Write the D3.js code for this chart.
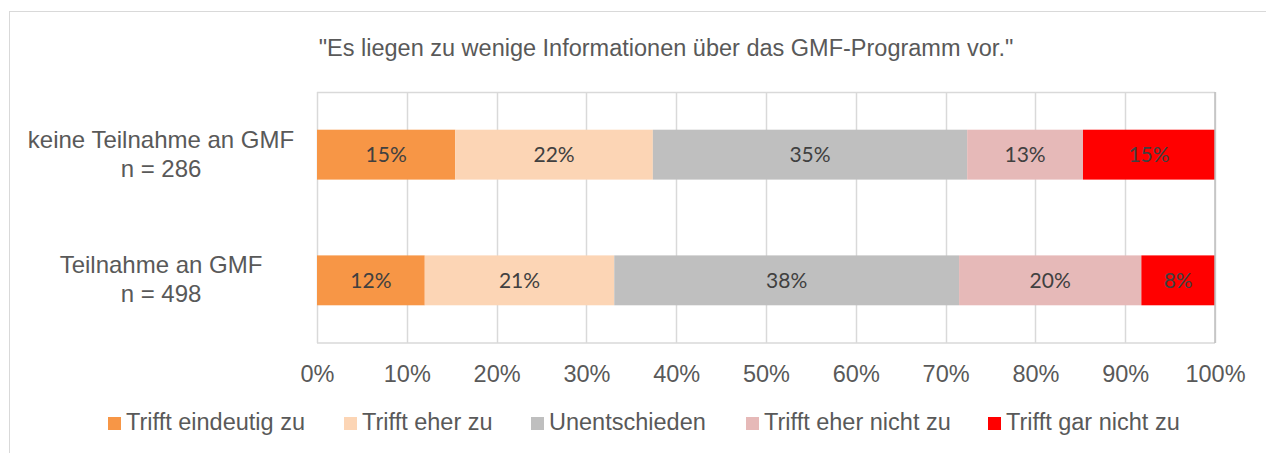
<!DOCTYPE html>
<html>
<head>
<meta charset="utf-8">
<script src="https://cdn.jsdelivr.net/npm/d3@7"></script>
<style>
  body { margin: 0; background: #fff; }
  text { font-family: "Liberation Sans", Arial, sans-serif; }
</style>
</head>
<body>
<script>
var categories = ['keine Teilnahme an GMF|n = 286', 'Teilnahme an GMF|n = 498']
var seriesNames = ['Trifft eindeutig zu', 'Trifft eher zu', 'Unentschieden', 'Trifft eher nicht zu', 'Trifft gar nicht zu']
var seriesColors = ['#f79646', '#fcd5b5', '#bfbfbf', '#e6b9b8', '#ff0000']
var eindeutig = [15.4, 12.0]
var eher = [22.0, 21.1]
var unentschieden = [35.0, 38.4]
var eherNicht = [12.9, 20.3]
var garNicht = [14.7, 8.2]
var tickValues = [0, 10, 20, 30, 40, 50, 60, 70, 80, 90, 100]
var title = '"Es liegen zu wenige Informationen über das GMF-Programm vor."'

var w = 1266
var h = 453
var margin = { top: 92, right: 51, bottom: 110, left: 317 }
var width = w - margin.left - margin.right
var height = h - margin.top - margin.bottom

var table = categories.map(function (c, i) {
  return {
    key: c,
    values: [eindeutig[i], eher[i], unentschieden[i], eherNicht[i], garNicht[i]]
  }
})

var svg = d3.select('body')
  .append('svg')
  .attr('width', w)
  .attr('height', h)

// outer chart border
svg.append('rect')
  .attr('x', 9.5).attr('y', 11.5)
  .attr('width', w + 10).attr('height', h + 10)
  .attr('fill', 'none').attr('stroke', '#d9d9d9')

svg.append('text')
  .attr('x', 666).attr('y', 56)
  .attr('text-anchor', 'middle')
  .attr('font-size', 23.5)
  .attr('fill', '#595959')
  .text(title)

var chart = svg.append('g')
  .attr('transform', 'translate(' + margin.left + ',' + margin.top + ')')

var x = d3.scaleLinear().domain([0, 100]).range([0, width])
var y = d3.scaleBand().domain(categories).range([0, height]).paddingInner(0.603).paddingOuter(0.3)

// grid
chart.selectAll('.grid')
  .data(tickValues)
  .enter()
  .append('line')
  .attr('x1', function (d) { return Math.round(x(d)) + 0.5 })
  .attr('x2', function (d) { return Math.round(x(d)) + 0.5 })
  .attr('y1', 0).attr('y2', height)
  .attr('stroke', '#d9d9d9').attr('stroke-width', 1.5)

chart.append('line')
  .attr('x1', 0).attr('x2', width)
  .attr('y1', 0.5).attr('y2', 0.5)
  .attr('stroke', '#d9d9d9').attr('stroke-width', 1.5)

var stack = d3.stack().keys(d3.range(seriesNames.length)).value(function (d, k) { return d.values[k] })
var layers = stack(table)

var groups = chart.selectAll('.layer')
  .data(layers)
  .enter()
  .append('g')
  .attr('fill', function (d, i) { return seriesColors[i] })

groups.selectAll('rect')
  .data(function (d) { return d })
  .enter()
  .append('rect')
  .attr('x', function (d) { return x(d[0]) })
  .attr('width', function (d) { return x(d[1]) - x(d[0]) })
  .attr('y', function (d) { return y(d.data.key) })
  .attr('height', y.bandwidth())

groups.selectAll('.lbl')
  .data(function (d) { return d })
  .enter()
  .append('text')
  .attr('class', 'lbl')
  .attr('x', function (d) { return (x(d[0]) + x(d[1])) / 2 })
  .attr('y', function (d) { return y(d.data.key) + y.bandwidth() / 2 + 7.5 })
  .attr('text-anchor', 'middle')
  .attr('font-size', 21)
  .style('font-family', 'Lato, "Open Sans", sans-serif')
  .attr('fill', '#404040')
  .text(function (d) { return Math.round(d[1] - d[0]) + '%' })

// axis frame lines
chart.append('line')
  .attr('x1', 0).attr('x2', width)
  .attr('y1', height).attr('y2', height)
  .attr('stroke', '#d9d9d9').attr('stroke-width', 1.5)
chart.append('line')
  .attr('x1', width).attr('x2', width)
  .attr('y1', 0).attr('y2', height)
  .attr('stroke', '#bfbfbf').attr('stroke-width', 1.5)

var xAxis = d3.axisBottom(x)
  .tickValues(tickValues)
  .tickSize(0)
  .tickFormat(function (d) { return d + '%' })

var gx = chart.append('g')
  .attr('transform', 'translate(0,' + height + ')')
  .call(xAxis)
gx.select('.domain').remove()
gx.selectAll('text')
  .attr('y', 39)
  .attr('dy', 0)
  .attr('font-size', 23.5)
  .attr('fill', '#595959')
  .style('font-family', '"Liberation Sans", Arial, sans-serif')

// category labels
var cat = svg.selectAll('.cat')
  .data(categories)
  .enter()
  .append('text')
  .attr('text-anchor', 'middle')
  .attr('font-size', 24)
  .attr('fill', '#595959')
  .attr('y', function (d) { return margin.top + y(d) + y.bandwidth() / 2 - 7 })

cat.selectAll('tspan')
  .data(function (d) { return d.split('|') })
  .enter()
  .append('tspan')
  .attr('x', 161)
  .attr('dy', function (d, i) { return i === 0 ? 0 : 29 })
  .text(function (d) { return d })

// legend
var legendX = [108, 344, 531, 746, 988]
var legend = svg.selectAll('.leg')
  .data(seriesNames)
  .enter()
  .append('g')
  .attr('transform', function (d, i) { return 'translate(' + legendX[i] + ',417)' })

legend.append('rect')
  .attr('width', 13).attr('height', 13)
  .attr('fill', function (d, i) { return seriesColors[i] })

legend.append('text')
  .attr('x', 18).attr('y', 13)
  .attr('font-size', 23.5)
  .attr('fill', '#595959')
  .text(function (d) { return d })
</script>
</body>
</html>
